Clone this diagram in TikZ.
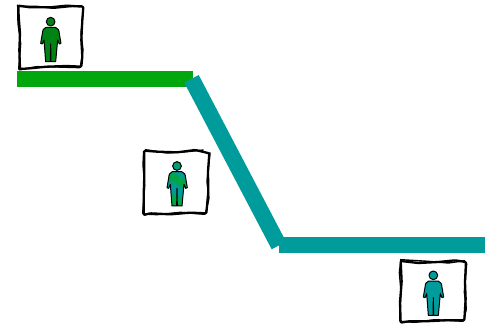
\documentclass[tikz,border=0pt]{standalone}
\definecolor{grn}{RGB}{0,168,14}
\definecolor{tl}{RGB}{0,155,155}
\definecolor{pgrn}{RGB}{0,130,20}
\definecolor{midg}{RGB}{0,165,70}
\pgfdeclarehorizontalshading{bandshade}{100bp}{%
 color(0bp)=(midg); color(25bp)=(midg); color(35bp)=(midg); color(43bp)=(tl); color(52bp)=(tl); color(60bp)=(midg); color(68bp)=(midg); color(74bp)=(tl); color(100bp)=(tl)}
\tikzset{
  framebox/.style={draw=black,line width=2.3pt,fill=white,line join=round,rounded corners=1pt},
  frameextra/.style={draw=black,line width=1.4pt,line join=round,rounded corners=1pt},
  personline/.style={draw=black,line width=1pt,line join=round},
  zoomed/.style={x=0.3333pt,y=-0.3333pt},
  person/.pic={
    \path[personline,pic actions] (-14,17) -- (14,17) .. controls (23,19) and (25,26) .. (26,36)
      -- (31,65) -- (26,67) -- (21,55) -- (15,120) -- (1,120) -- (0,67) -- (-1,120) -- (-15,120) -- (-20,55) -- (-25,67) -- (-30,65)
      -- (-25,36) .. controls (-24,26) and (-22,19) .. (-14,17) -- cycle;
    \path[personline,pic actions] (0,0) circle (13);
  }
}
\begin{document}
\begin{tikzpicture}[x=1pt,y=-1pt]
\useasboundingbox[fill=white] (0,0) rectangle (490,327);
% bars
\fill[grn] (17,71) rectangle (192.5,87);
\fill[tl] (184.3,82.7) -- (198.7,75) -- (286,241.6) -- (271.7,249.3) -- cycle;
\fill[tl] (279.3,237) rectangle (485,253);
% frame 1
\begin{scope}[shift={(10,0)},zoomed]
\draw[framebox] (25,17) -- (60,22) -- (120,22) -- (170,17) -- (220,20) -- (217,60) -- (214,120) -- (217,170) -- (214,200) -- (170,198) -- (110,200) -- (60,205) -- (30,207) -- (28,150) -- (30,100) -- (26,50) -- cycle;
\draw[frameextra] (30,19) -- (80,19) -- (130,25) -- (180,20) -- (216,17) (219,40) -- (213,100) -- (219,150) -- (211,203) -- (140,201) -- (80,200) -- (26,210) -- (32,130) -- (24,70) -- (23,14);
\pic[fill=pgrn] at (122,65) {person};
\end{scope}
% frame 2
\begin{scope}[shift={(137,145)},zoomed]
\draw[framebox] (22,17) -- (60,20) -- (120,22) -- (175,15) -- (217,25) -- (213,80) -- (214,140) -- (208,205) -- (160,203) -- (100,208) -- (40,205) -- (20,210) -- (20,150) -- (22,90) -- cycle;
\draw[frameextra] (24,14) -- (90,24) -- (150,20) -- (200,15) (219,22) -- (210,110) -- (216,160) -- (205,208) -- (130,202) -- (60,209) -- (17,207) -- (23,120) -- (18,60) -- (20,18);
\pic[shading=bandshade,shading angle=60] at (120,63) {person};
\end{scope}
% frame 3
\begin{scope}[shift={(395,252)},zoomed]
\draw[framebox] (17,27) -- (70,33) -- (130,30) -- (180,25) -- (213,30) -- (210,90) -- (212,140) -- (208,205) -- (150,205) -- (90,208) -- (40,208) -- (17,212) -- (15,150) -- (20,90) -- cycle;
\draw[frameextra] (15,23) -- (100,28) -- (160,33) -- (210,26) (215,35) -- (208,120) -- (214,170) -- (206,208) -- (120,203) -- (60,211) -- (14,208) -- (18,120) -- (13,60) -- (18,24);
\pic[fill=tl] at (115,70) {person};
\end{scope}
\end{tikzpicture}
\end{document}
